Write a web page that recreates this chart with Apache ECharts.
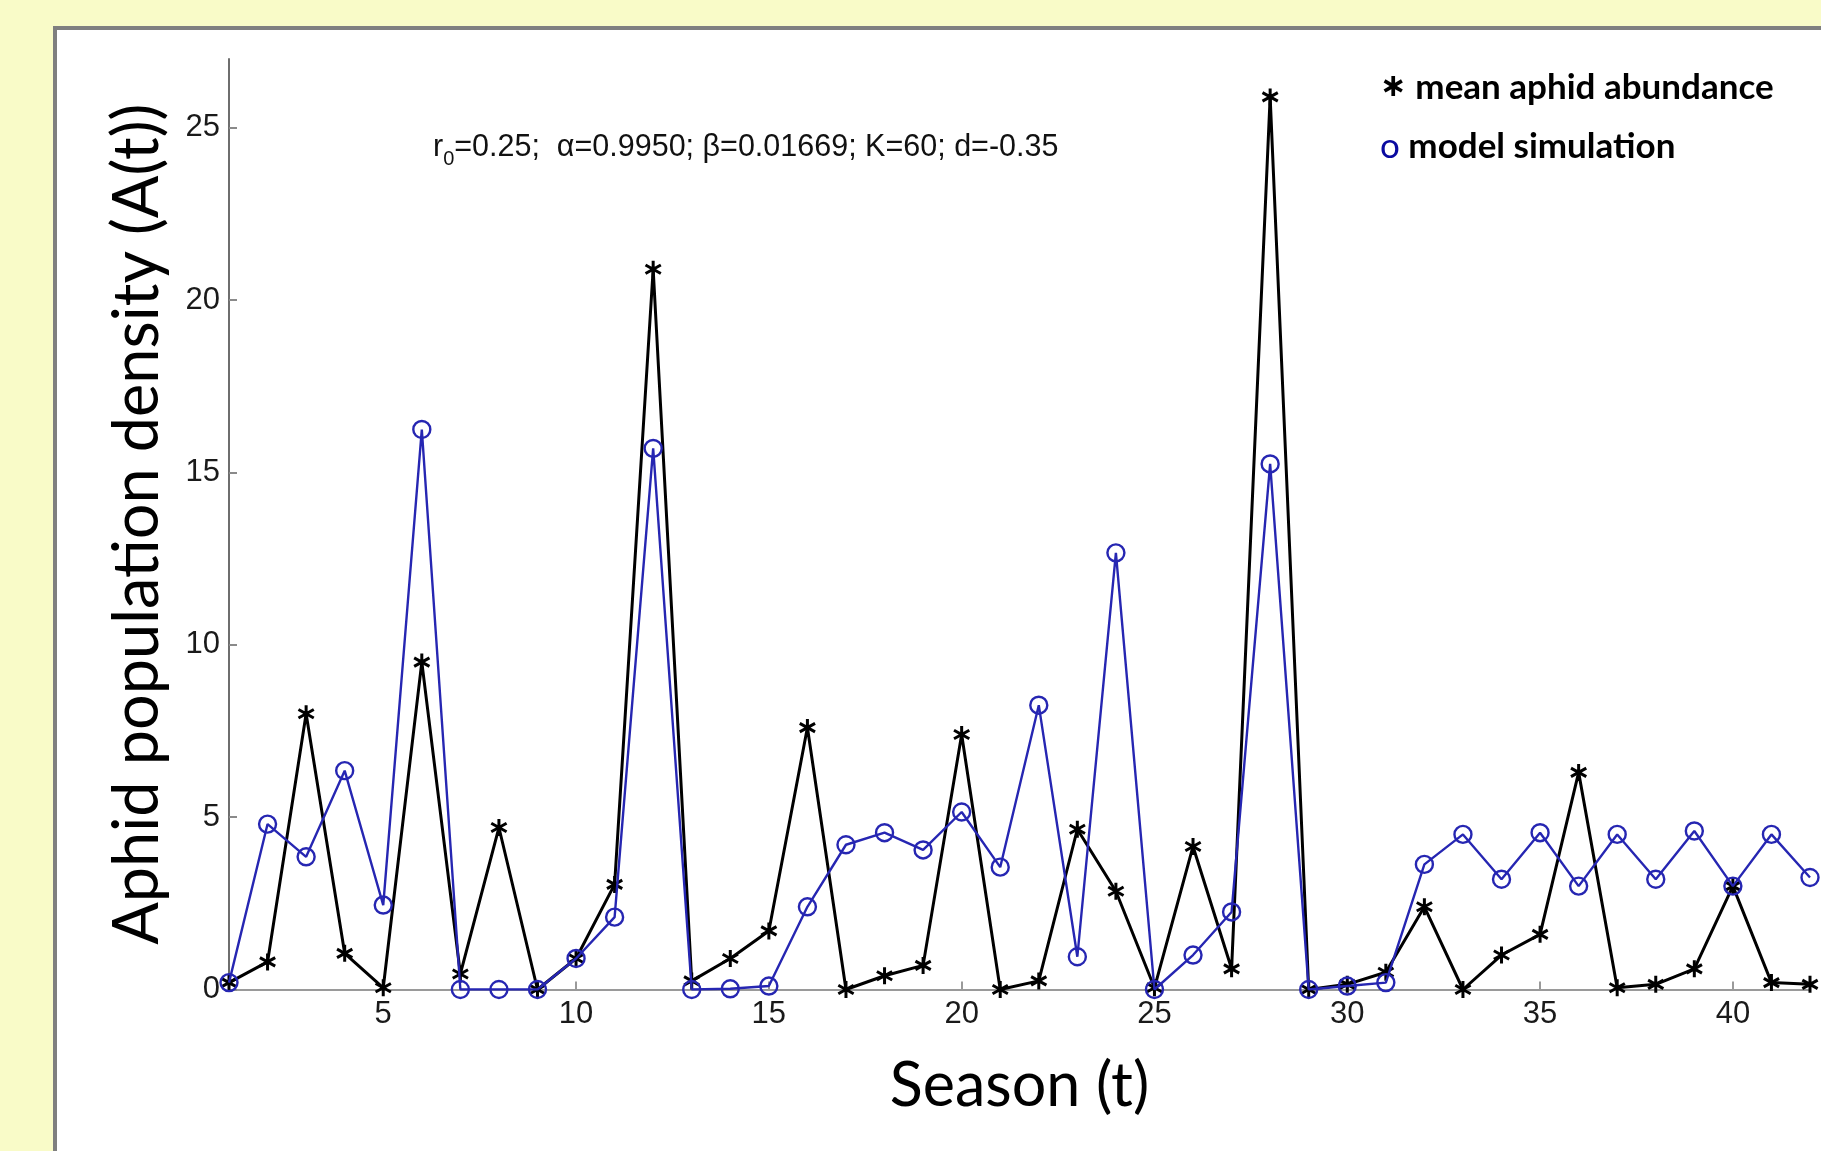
<!DOCTYPE html>
<html>
<head>
<meta charset="utf-8">
<script src="https://cdn.jsdelivr.net/npm/echarts@6/dist/echarts.min.js"></script>
<style>
html,body{margin:0;padding:0;background:#f9fbc8;}
#chart{width:1821px;height:1151px;}
</style>
</head>
<body>
<div id="chart"></div>
<script>
// ---- data ----
const seasons = [1,2,3,4,5,6,7,8,9,10,11,12,13,14,15,16,17,18,19,20,21,22,23,24,25,26,27,28,29,30,31,32,33,34,35,36,37,38,39,40,41,42];
const meanAphidAbundance = [0.2,0.8,8.0,1.05,0.05,9.5,0.45,4.7,0,0.9,3.05,20.9,0.25,0.9,1.7,7.6,0,0.4,0.7,7.4,0,0.25,4.65,2.85,0.05,4.15,0.6,25.9,0,0.15,0.5,2.4,0,1.0,1.6,6.3,0.05,0.15,0.6,3.0,0.2,0.15];
const modelSimulation = [0.2,4.8,3.85,6.35,2.45,16.25,0,0,0,0.9,2.1,15.7,0,0.02,0.1,2.4,4.2,4.55,4.05,5.15,3.55,8.25,0.95,12.67,0,1.0,2.25,15.25,0,0.1,0.2,3.63,4.5,3.2,4.55,3.0,4.5,3.2,4.6,3.0,4.5,3.25];
const xTickLabels = [5,10,15,20,25,30,35,40];
const yTickLabels = [0,5,10,15,20,25];
const xAxisTitle = 'Season (t)';
const yAxisTitle = 'Aphid population density (A(t))';
const legendAphid = 'mean aphid abundance';
const legendModel = 'model simulation';

const blackPairs = seasons.map((s, i) => [s, meanAphidAbundance[i]]);
const bluePairs = seasons.map((s, i) => [s, modelSimulation[i]]);

const BLUE = '#2626b2';
const asterisk = 'path://M0,-10L0,10M-9,-5L9,5M-9,5L9,-5';

const chart = echarts.init(document.getElementById('chart'), null, {renderer: 'canvas'});
chart.setOption({
  animation: false,
  backgroundColor: '#f9fbc8',
  graphic: [
    {
      type: 'rect', z: -10, silent: true,
      shape: {x: 55, y: 28, width: 1900, height: 1300},
      style: {fill: '#ffffff', stroke: '#7f7f7f', lineWidth: 4}
    },
    {
      type: 'text', z: 10, x: 433, y: 148,
      style: {
        text: 'r{sub|0}=0.25;  α=0.9950; β=0.01669; K=60; d=-0.35',
        font: '30.5px "Liberation Sans"', fill: '#111', verticalAlign: 'middle',
        rich: {sub: {font: '20px "Liberation Sans"', fill: '#111', padding: [22, 0, 0, 0]}}
      }
    },
    {
      type: 'text', z: 10, x: 1380, y: 88,
      style: {
        text: '{s|∗} ' + legendAphid,
        font: 'bold 35px Lato', fill: '#000', verticalAlign: 'middle',
        rich: {s: {font: 'bold 32px "DejaVu Sans"', fill: '#000'}}
      }
    },
    {
      type: 'text', z: 10, x: 1380, y: 147,
      style: {
        text: '{o|o} ' + legendModel,
        font: 'bold 35px Lato', fill: '#000', verticalAlign: 'middle',
        rich: {o: {font: '35px Lato', fill: '#0a0aa0'}}
      }
    }
  ],
  grid: {left: 229, top: 59, width: 1581, height: 930.5, containLabel: false},
  xAxis: {
    type: 'value', min: 1, max: 42,
    name: xAxisTitle, nameLocation: 'middle', nameGap: 97,
    nameTextStyle: {fontFamily: 'Lato', fontSize: 61, color: '#000', verticalAlign: 'middle'},
    axisLine: {onZero: false, lineStyle: {color: '#9a9a9a', width: 2}},
    axisTick: {inside: true, length: 8, customValues: xTickLabels, lineStyle: {color: '#9a9a9a', width: 2}},
    axisLabel: {customValues: xTickLabels, margin: 9, fontFamily: 'Liberation Sans', fontSize: 31, color: '#1a1a1a'},
    splitLine: {show: false}
  },
  yAxis: {
    type: 'value', min: 0, max: 27,
    name: yAxisTitle, nameLocation: 'middle', nameGap: 91, nameRotate: 90,
    nameTextStyle: {fontFamily: 'Lato', fontSize: 63, color: '#000', verticalAlign: 'middle'},
    axisLine: {show: true, lineStyle: {color: '#6e6e6e', width: 2}},
    axisTick: {show: true, inside: true, length: 8, customValues: yTickLabels, lineStyle: {color: '#8a8a8a', width: 2}},
    axisLabel: {customValues: yTickLabels, margin: 9, fontFamily: 'Liberation Sans', fontSize: 31, color: '#1a1a1a'},
    splitLine: {show: false}
  },
  series: [
    {
      name: legendAphid, type: 'line', data: blackPairs,
      symbol: asterisk, symbolSize: 17, symbolKeepAspect: true,
      lineStyle: {color: '#000', width: 3},
      itemStyle: {color: '#000', borderColor: '#000', borderWidth: 3},
      emphasis: {disabled: true}, z: 3
    },
    {
      name: legendModel, type: 'line', data: bluePairs,
      symbol: 'circle', symbolSize: 17,
      lineStyle: {color: BLUE, width: 2.4},
      itemStyle: {color: 'rgba(0,0,0,0)', borderColor: BLUE, borderWidth: 2.4},
      emphasis: {disabled: true}, z: 4
    }
  ]
});
</script>
</body>
</html>
